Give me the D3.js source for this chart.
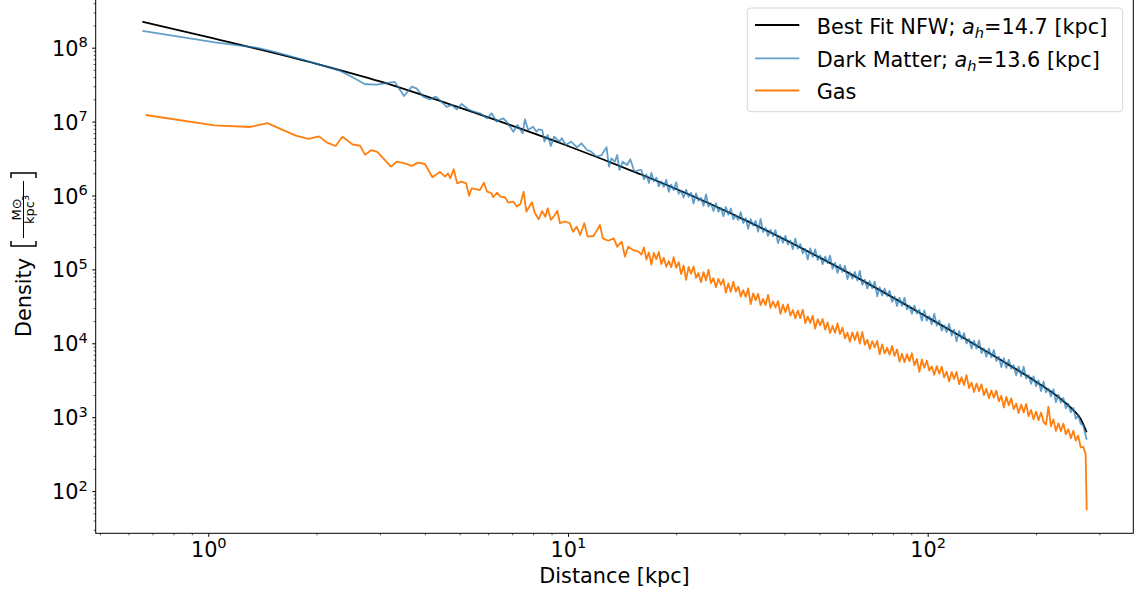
<!DOCTYPE html>
<html><head><meta charset="utf-8">
<script src="https://cdn.jsdelivr.net/npm/d3@7"></script>
<style>
body{margin:0;background:#fff}
svg{display:block}
text{font-family:"DejaVu Sans",sans-serif;fill:#000}
</style>
</head><body>
<svg id="chart" width="1142" height="592"></svg>
<script>
// ---------------- data ----------------
const xMajorTicks = [1, 10, 100];
const xTickExponents = ["0", "1", "2"];
const yMajorTicks = [1e2, 1e3, 1e4, 1e5, 1e6, 1e7, 1e8];
const yTickExponents = ["2", "3", "4", "5", "6", "7", "8"];

const legendLabels = ["Best Fit NFW; ", "Dark Matter; ", "Gas"];
const legendScale = ["14.7", "13.6", null];

// Best-fit NFW curve: distance [kpc] and log10 density
const fitDistance = [0.656, 1, 2, 3, 5, 10, 15.85, 20, 31.6, 50, 64.8, 100, 126, 158, 200, 233, 254, 266, 276.7];
const fitLogDensity = [8.352, 8.142, 7.781, 7.543, 7.188, 6.670, 6.290, 6.088, 5.650, 5.162, 4.868, 4.351, 4.071, 3.787, 3.481, 3.257, 3.096, 2.98, 2.796];

// Dark matter profile, inner part
const dmInnerDistance = [0.656, 1.044, 1.36, 1.516, 1.84, 2.32, 2.48, 2.73, 2.94, 3.13, 3.30, 3.50, 3.68, 3.79, 3.96, 4.13, 4.29, 4.45, 4.60, 4.75,
  4.91, 5.06, 5.28, 5.46, 5.69, 5.96, 6.13, 6.33, 6.60, 6.75, 7.05, 7.24, 7.48, 7.59, 7.75, 8.00, 8.17, 8.30, 8.48, 8.60,
  8.78, 8.96, 9.15, 9.45, 9.61, 9.86, 10.2, 10.6, 10.9, 11.3, 11.6, 12.0, 12.4, 12.8, 13.0, 13.2, 13.5, 13.7, 13.9, 14.2,
  14.6, 14.9, 15.3, 15.8];
const dmInnerLogDensity = [8.226, 8.073, 8.000, 7.946, 7.834, 7.690, 7.617, 7.505, 7.500, 7.520, 7.536, 7.346, 7.472, 7.450, 7.337, 7.300, 7.337, 7.270, 7.200, 7.225,
  7.166, 7.238, 7.166, 7.134, 7.112, 7.045, 7.112, 6.999, 7.045, 6.999, 6.863, 6.954, 6.842, 7.031, 6.886, 6.931, 6.863, 6.896, 6.886, 6.728,
  6.819, 6.670, 6.796, 6.728, 6.774, 6.683, 6.728, 6.652, 6.706, 6.616, 6.593, 6.525, 6.548, 6.652, 6.390, 6.503, 6.457, 6.548, 6.345, 6.457,
  6.413, 6.490, 6.322, 6.345];

// Gas profile, inner part
const gasInnerDistance = [0.67, 1.04, 1.31, 1.46, 1.75, 1.90, 2.03, 2.14, 2.26, 2.36, 2.52, 2.64, 2.73, 2.84, 2.95,
  3.22, 3.34, 3.52, 3.68, 3.83, 4.00, 4.20, 4.41, 4.55, 4.64, 4.71, 4.81, 4.92, 5.06, 5.21, 5.31, 5.40, 5.57, 5.69, 5.84,
  5.96, 6.13, 6.19, 6.35, 6.49, 6.68, 6.82, 7.05, 7.21, 7.37, 7.53, 7.66, 7.81, 7.94, 8.08, 8.29, 8.47, 8.65, 8.78, 8.96,
  9.15, 9.34, 9.50, 9.80, 10.11, 10.33, 10.57, 10.81, 11.1, 11.34, 11.78, 12.27, 12.5, 12.94, 13.4, 13.7, 14.1, 14.4, 14.7, 15.2, 15.7];
const gasInnerLogDensity = [7.089, 6.950, 6.927, 6.980, 6.810, 6.765, 6.800, 6.715, 6.670, 6.795, 6.690, 6.675, 6.550, 6.615, 6.590,
  6.390, 6.457, 6.435, 6.400, 6.444, 6.426, 6.246, 6.320, 6.254, 6.300, 6.233, 6.355, 6.165, 6.187, 6.165, 5.997, 6.097, 6.084, 6.074, 6.173,
  6.051, 6.030, 5.976, 6.038, 5.984, 5.976, 5.903, 5.916, 5.850, 5.885, 6.050, 5.780, 5.850, 5.908, 5.767, 5.678, 5.790, 5.713, 5.827, 5.670,
  5.722, 5.794, 5.625, 5.648, 5.625, 5.510, 5.578, 5.466, 5.625, 5.443, 5.452, 5.600, 5.420, 5.388, 5.420, 5.307, 5.375, 5.172, 5.307, 5.260, 5.240];

// Outer (dense, noisy) part: shared distance bins [kpc]
const outerDistance = [16.0, 16.26, 16.52, 16.78, 17.05, 17.32, 17.60, 17.88, 18.17, 18.46,
  18.76, 19.06, 19.36, 19.67, 19.99, 20.31, 20.63, 20.96, 21.30, 21.64,
  21.99, 22.34, 22.70, 23.06, 23.43, 23.81, 24.19, 24.58, 24.97, 25.37,
  25.78, 26.19, 26.61, 27.04, 27.47, 27.91, 28.36, 28.81, 29.27, 29.74,
  30.22, 30.70, 31.19, 31.69, 32.20, 32.72, 33.24, 33.77, 34.31, 34.86,
  35.42, 35.99, 36.57, 37.15, 37.75, 38.35, 38.96, 39.59, 40.22, 40.86,
  41.52, 42.18, 42.86, 43.55, 44.24, 44.95, 45.67, 46.40, 47.15, 47.90,
  48.67, 49.45, 50.24, 51.04, 51.86, 52.69, 53.53, 54.39, 55.26, 56.14,
  57.04, 57.95, 58.88, 59.82, 60.78, 61.75, 62.74, 63.75, 64.77, 65.80,
  66.86, 67.93, 69.01, 70.12, 71.24, 72.38, 73.54, 74.71, 75.91, 77.12,
  78.36, 79.61, 80.88, 82.18, 83.49, 84.83, 86.19, 87.57, 88.97, 90.39,
  91.84, 93.31, 94.80, 96.32, 97.86, 99.43, 101.0, 102.6, 104.3, 106.0,
  107.7, 109.4, 111.1, 112.9, 114.7, 116.6, 118.4, 120.3, 122.3, 124.2,
  126.2, 128.2, 130.3, 132.4, 134.5, 136.7, 138.9, 141.1, 143.3, 145.6,
  148.0, 150.3, 152.7, 155.2, 157.7, 160.2, 162.8, 165.4, 168.0, 170.7,
  173.4, 176.2, 179.0, 181.9, 184.8, 187.8, 190.8, 193.8, 196.9, 200.1,
  203.3, 206.6, 209.9, 213.2, 216.6, 220.1, 223.6, 227.2, 230.9, 234.6,
  238.3, 242.1, 246.0, 250.0, 254.0, 258.0, 262.1, 266.3, 270.6, 274.9,
  276.7];
const dmOuterLogDensity = [6.342, 6.218, 6.284, 6.170, 6.306, 6.193, 6.239, 6.125, 6.191, 6.117,
  6.213, 6.050, 6.146, 6.072, 6.178, 6.023, 6.068, 5.973, 6.077, 5.982,
  6.037, 5.892, 6.027, 5.931, 5.966, 5.861, 6.016, 5.851, 5.895, 5.790,
  5.895, 5.780, 5.835, 5.719, 5.844, 5.739, 5.824, 5.679, 5.733, 5.668,
  5.773, 5.628, 5.693, 5.548, 5.681, 5.594, 5.657, 5.510, 5.683, 5.506,
  5.560, 5.453, 5.536, 5.449, 5.532, 5.355, 5.448, 5.361, 5.454, 5.337,
  5.390, 5.274, 5.417, 5.280, 5.343, 5.216, 5.279, 5.132, 5.285, 5.168,
  5.271, 5.125, 5.188, 5.070, 5.172, 5.084, 5.186, 5.008, 5.090, 4.952,
  5.064, 4.966, 5.048, 4.870, 4.962, 4.874, 4.966, 4.848, 4.979, 4.790,
  4.861, 4.742, 4.843, 4.744, 4.835, 4.636, 4.757, 4.648, 4.739, 4.640,
  4.711, 4.562, 4.633, 4.504, 4.615, 4.506, 4.617, 4.458, 4.509, 4.400,
  4.511, 4.402, 4.453, 4.304, 4.445, 4.306, 4.367, 4.258, 4.398, 4.239,
  4.310, 4.171, 4.242, 4.152, 4.263, 4.104, 4.185, 4.026, 4.166, 4.057,
  4.138, 3.998, 4.058, 3.928, 4.038, 3.928, 4.038, 3.868, 3.929, 3.819,
  3.929, 3.809, 3.909, 3.759, 3.819, 3.678, 3.798, 3.667, 3.777, 3.656,
  3.705, 3.565, 3.684, 3.554, 3.683, 3.522, 3.572, 3.451, 3.551, 3.420,
  3.497, 3.354, 3.481, 3.337, 3.384, 3.281, 3.378, 3.205, 3.302, 3.198,
  3.259, 3.119, 3.179, 3.067, 3.126, 2.980, 3.030, 2.910, 2.890, 2.750,
  2.696];
const gasOuterLogDensity = [5.200, 5.297, 5.133, 5.230, 5.066, 5.223, 5.139, 5.236, 5.072, 5.159,
  5.036, 5.112, 5.029, 5.165, 5.022, 5.098, 4.935, 5.052, 4.858, 5.035,
  4.941, 5.038, 4.884, 4.951, 4.827, 4.964, 4.851, 4.997, 4.814, 4.880,
  4.757, 4.873, 4.790, 4.866, 4.683, 4.810, 4.696, 4.833, 4.699, 4.766,
  4.632, 4.719, 4.626, 4.742, 4.529, 4.675, 4.582, 4.668, 4.515, 4.601,
  4.518, 4.655, 4.481, 4.568, 4.484, 4.571, 4.397, 4.524, 4.420, 4.527,
  4.374, 4.450, 4.337, 4.443, 4.340, 4.456, 4.273, 4.360, 4.276, 4.373,
  4.199, 4.326, 4.242, 4.329, 4.185, 4.282, 4.139, 4.235, 4.142, 4.268,
  4.125, 4.211, 4.068, 4.144, 4.021, 4.148, 4.044, 4.151, 3.997, 4.154,
  3.980, 4.047, 3.924, 4.030, 3.947, 4.033, 3.850, 3.986, 3.863, 3.939,
  3.846, 3.963, 3.829, 3.916, 3.752, 3.859, 3.745, 3.852, 3.758, 3.865,
  3.702, 3.788, 3.615, 3.781, 3.668, 3.764, 3.631, 3.687, 3.574, 3.691,
  3.587, 3.684, 3.540, 3.617, 3.483, 3.610, 3.516, 3.613, 3.447, 3.541,
  3.435, 3.570, 3.394, 3.468, 3.342, 3.456, 3.350, 3.445, 3.299, 3.383,
  3.257, 3.361, 3.265, 3.359, 3.214, 3.288, 3.132, 3.276, 3.160, 3.254,
  3.109, 3.183, 3.057, 3.171, 3.065, 3.179, 3.013, 3.098, 2.972, 3.076,
  2.959, 3.063, 2.936, 2.900, 3.143, 2.877, 2.970, 2.814, 2.917, 2.811,
  2.914, 2.768, 2.837, 2.716, 2.816, 2.685, 2.750, 2.590, 2.600, 2.500,
  1.740];

// ---------------- chart ----------------
const W = 1142, H = 592;
const margin = {left: 95.7, right: 8.7, top: -3, bottom: 58.7};
const svg = d3.select("#chart");

const x = d3.scaleLog().domain([0.4864, 372.9]).range([margin.left, W - margin.right]);
const y = d3.scaleLog().domain([26.85, 4.85e8]).range([H - margin.bottom, margin.top]);

const toPoints = (rs, ls) => rs.map((r, i) => ({r: r, v: Math.pow(10, ls[i])}));
const fitData = toPoints(fitDistance, fitLogDensity);
const dmData = toPoints(dmInnerDistance, dmInnerLogDensity).concat(toPoints(outerDistance, dmOuterLogDensity));
const gasData = toPoints(gasInnerDistance, gasInnerLogDensity).concat(toPoints(outerDistance, gasOuterLogDensity));

svg.append("defs").append("clipPath").attr("id", "plotclip").append("rect")
  .attr("x", margin.left).attr("y", margin.top)
  .attr("width", W - margin.left - margin.right).attr("height", H - margin.top - margin.bottom);

const plot = svg.append("g").attr("clip-path", "url(#plotclip)");
const line = d3.line().x(d => x(d.r)).y(d => y(d.v));
const smooth = d3.line().x(d => x(d.r)).y(d => y(d.v)).curve(d3.curveMonotoneX);

plot.append("path").datum(fitData).attr("d", smooth)
  .attr("fill", "none").attr("stroke", "#000").attr("stroke-width", 1.8);
plot.append("path").datum(dmData).attr("d", line)
  .attr("fill", "none").attr("stroke", "#1f77b4").attr("stroke-opacity", 0.7)
  .attr("stroke-width", 1.8).attr("stroke-linejoin", "round");
plot.append("path").datum(gasData).attr("d", line)
  .attr("fill", "none").attr("stroke", "#ff7f0e")
  .attr("stroke-width", 1.8).attr("stroke-linejoin", "round");

// minor tick values
function minors(lo, hi) {
  const out = [];
  for (let e = Math.floor(Math.log10(lo)); e <= Math.ceil(Math.log10(hi)); e++) {
    for (let k = 2; k <= 9; k++) {
      const v = k * Math.pow(10, e);
      if (v >= lo && v <= hi) out.push(v);
    }
  }
  return out;
}
const xd = x.domain(), yd = y.domain();

const xAxisG = svg.append("g").attr("transform", `translate(0,${H - margin.bottom})`);
xAxisG.append("g").call(d3.axisBottom(x).tickValues(minors(xd[0], xd[1])).tickSize(2).tickFormat(() => ""))
  .call(g => g.select(".domain").remove())
  .call(g => g.selectAll("line").attr("stroke-width", 0.7));
const xMaj = xAxisG.append("g").call(d3.axisBottom(x).tickValues(xMajorTicks).tickSize(3.5).tickFormat(() => ""))
  .call(g => g.select(".domain").remove());
xMaj.selectAll(".tick").each(function(d, i) {
  const t = d3.select(this).select("text").attr("y", 23.4).attr("dy", null)
    .attr("font-size", 20.8).attr("fill", "#000").attr("text-anchor", "middle");
  t.append("tspan").text("10");
  t.append("tspan").attr("font-size", 14.6).attr("dy", -8.6).text(xTickExponents[i]);
});

const yAxisG = svg.append("g").attr("transform", `translate(${margin.left},0)`);
yAxisG.append("g").call(d3.axisLeft(y).tickValues(minors(yd[0], yd[1])).tickSize(2).tickFormat(() => ""))
  .call(g => g.select(".domain").remove())
  .call(g => g.selectAll("line").attr("stroke-width", 0.7));
const yMaj = yAxisG.append("g").call(d3.axisLeft(y).tickValues(yMajorTicks).tickSize(3.5).tickFormat(() => ""))
  .call(g => g.select(".domain").remove());
yMaj.selectAll(".tick").each(function(d, i) {
  const t = d3.select(this).select("text").attr("x", -8).attr("dy", null).attr("y", 7.6)
    .attr("font-size", 20.8).attr("fill", "#000").attr("text-anchor", "end");
  t.append("tspan").text("10");
  t.append("tspan").attr("font-size", 14.6).attr("dy", -8.6).text(yTickExponents[i]);
});

// spines
svg.append("rect").attr("x", margin.left).attr("y", margin.top)
  .attr("width", W - margin.left - margin.right).attr("height", H - margin.top - margin.bottom)
  .attr("fill", "none").attr("stroke", "#000").attr("stroke-width", 1);

// axis labels
svg.append("text").attr("x", (margin.left + W - margin.right) / 2).attr("y", 582.5)
  .attr("text-anchor", "middle").attr("font-size", 20.8).text("Distance [kpc]");

const yl = svg.append("g").attr("transform", "translate(31,337) rotate(-90)");
yl.append("text").attr("x", 0).attr("y", 0).attr("font-size", 20.8).text("Density");
yl.append("path").attr("d", "M 96 -20 L 91 -20 L 91 5 L 96 5").attr("fill", "none").attr("stroke", "#000").attr("stroke-width", 1.5);
yl.append("path").attr("d", "M 159 -20 L 164 -20 L 164 5 L 159 5").attr("fill", "none").attr("stroke", "#000").attr("stroke-width", 1.5);
yl.append("line").attr("x1", 99).attr("x2", 156).attr("y1", -7.5).attr("y2", -7.5).attr("stroke", "#000").attr("stroke-width", 1);
yl.append("text").attr("x", 127.5).attr("y", -10.5).attr("text-anchor", "middle").attr("font-size", 13).text("M\u2299");
yl.append("text").attr("x", 127.5).attr("y", 3).attr("text-anchor", "middle").attr("font-size", 13)
  .call(t => { t.append("tspan").text("kpc"); t.append("tspan").attr("font-size", 9.5).attr("dy", -5).text("3"); });

// legend
const lg = svg.append("g");
lg.append("rect").attr("x", 747.3).attr("y", 8).attr("width", 375.4).attr("height", 103.7)
  .attr("rx", 3.5).attr("fill", "#fff").attr("fill-opacity", 0.8).attr("stroke", "#d6d6d6").attr("stroke-width", 1);
const legendColors = ["#000", "#1f77b4", "#ff7f0e"];
const legendOpacity = [1, 0.7, 1];
const rowY = [25, 58.3, 90.5];
legendLabels.forEach((lab, i) => {
  lg.append("line").attr("x1", 755).attr("x2", 799.3).attr("y1", rowY[i]).attr("y2", rowY[i])
    .attr("stroke", legendColors[i]).attr("stroke-opacity", legendOpacity[i]).attr("stroke-width", 1.8);
  const t = lg.append("text").attr("x", 816.7).attr("y", rowY[i] + 8.8).attr("font-size", 20.8);
  t.append("tspan").text(lab);
  if (legendScale[i] !== null) {
    t.append("tspan").attr("font-style", "italic").text("a");
    t.append("tspan").attr("font-style", "italic").attr("font-size", 14.6).attr("dy", 4).text("h");
    t.append("tspan").attr("dy", -4).text("=" + legendScale[i] + " [kpc]");
  }
});
</script>
</body></html>
